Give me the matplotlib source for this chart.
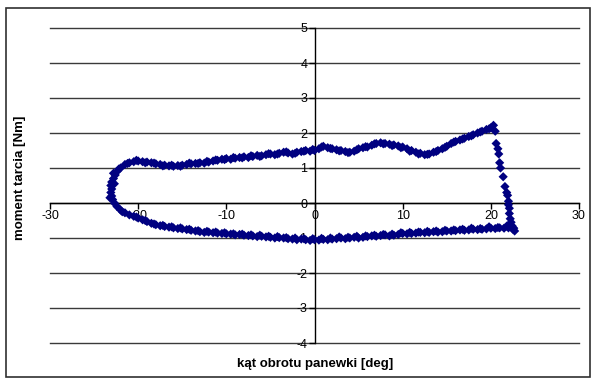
import matplotlib.pyplot as plt
from matplotlib.patches import Rectangle

plt.rcParams['font.family'] = ['Liberation Sans', 'DejaVu Sans']

# upper branch (left -> right)
upper_x = [-22.0, -21.5, -21.0, -20.5, -20.0, -19.5, -19.0, -18.5, -18.0, -17.5,
           -17.0, -16.5, -16.0, -15.5, -15.0, -14.5, -14.0, -13.5, -13.0, -12.5,
           -12.0, -11.5, -11.0, -10.5, -10.0, -9.5, -9.0, -8.5, -8.0, -7.5,
           -7.0, -6.5, -6.0, -5.5, -5.0, -4.5, -4.0, -3.5, -3.0, -2.5,
           -2.0, -1.5, -1.0, -0.5, 0.0, 0.5, 1.0, 1.5, 2.0, 2.5,
           3.0, 3.5, 4.0, 4.5, 5.0, 5.5, 6.0, 6.5, 7.0, 7.5,
           8.0, 8.5, 9.0, 9.5, 10.0, 10.5, 11.0, 11.5, 12.0, 12.5,
           13.0, 13.5, 14.0, 14.5, 15.0, 15.5, 16.0, 16.5, 17.0, 17.5,
           18.0, 18.5, 19.0, 19.5, 20.0, 20.3, 20.5]
upper_y = [1.00, 1.10, 1.15, 1.18, 1.20, 1.18, 1.17, 1.15, 1.12, 1.10,
           1.08, 1.06, 1.05, 1.07, 1.08, 1.10, 1.12, 1.13, 1.15, 1.14,
           1.17, 1.20, 1.22, 1.25, 1.27, 1.25, 1.28, 1.30, 1.32, 1.30,
           1.33, 1.36, 1.35, 1.38, 1.40, 1.38, 1.42, 1.45, 1.43, 1.40,
           1.45, 1.47, 1.50, 1.48, 1.50, 1.55, 1.62, 1.58, 1.55, 1.52,
           1.50, 1.47, 1.45, 1.48, 1.55, 1.58, 1.60, 1.65, 1.70, 1.72,
           1.70, 1.68, 1.66, 1.63, 1.60, 1.55, 1.50, 1.45, 1.42, 1.38,
           1.40, 1.45, 1.50, 1.55, 1.62, 1.70, 1.76, 1.80, 1.85, 1.90,
           1.95, 2.00, 2.05, 2.10, 2.15, 2.22, 2.05]

# a second, slightly offset pass over the upper branch (the loop is traced twice)
upper2_x = [-21.2, -20.2, -19.2, -18.2, -17.2, -16.2, -15.2, -14.2, -13.2, -12.2,
            -11.2, -10.2, -9.2, -8.2, -7.2, -6.2, -5.2, -4.2, -3.2, -2.2,
            -1.2, -0.2, 0.8, 1.8, 2.8, 3.8, 4.8, 5.8, 6.8, 7.8,
            8.8, 9.8, 10.8, 11.8, 12.8, 13.8, 14.8, 15.8, 16.8, 17.8,
            18.8, 19.8]
upper2_y = [1.13, 1.22, 1.15, 1.14, 1.06, 1.08, 1.05, 1.14, 1.13, 1.19,
            1.23, 1.24, 1.30, 1.29, 1.35, 1.33, 1.41, 1.40, 1.46, 1.42,
            1.48, 1.53, 1.60, 1.56, 1.49, 1.44, 1.52, 1.61, 1.69, 1.69,
            1.64, 1.58, 1.48, 1.40, 1.39, 1.47, 1.59, 1.74, 1.83, 1.92,
            2.03, 2.12]

# right-hand drop
drop_x = [20.6, 20.8, 20.9, 21.0, 21.1, 21.4, 21.6, 21.8, 21.9, 22.0,
          22.0, 22.1, 22.1, 22.2, 22.3, 22.4, 22.6, 22.7, 22.5]
drop_y = [1.70, 1.55, 1.40, 1.15, 1.00, 0.75, 0.47, 0.30, 0.22, 0.05,
          -0.05, -0.15, -0.30, -0.45, -0.55, -0.65, -0.72, -0.80, -0.75]

# lower branch (right -> left)
lower_x = [22.5, 22.0, 21.5, 21.0, 20.5, 20.0, 19.5, 19.0, 18.5, 18.0,
           17.5, 17.0, 16.5, 16.0, 15.5, 15.0, 14.5, 14.0, 13.5, 13.0,
           12.5, 12.0, 11.5, 11.0, 10.5, 10.0, 9.5, 9.0, 8.5, 8.0,
           7.5, 7.0, 6.5, 6.0, 5.5, 5.0, 4.5, 4.0, 3.5, 3.0,
           2.5, 2.0, 1.5, 1.0, 0.5, 0.0, -0.5, -1.0, -1.5, -2.0,
           -2.5, -3.0, -3.5, -4.0, -4.5, -5.0, -5.5, -6.0, -6.5, -7.0,
           -7.5, -8.0, -8.5, -9.0, -9.5, -10.0, -10.5, -11.0, -11.5, -12.0,
           -12.5, -13.0, -13.5, -14.0, -14.5, -15.0, -15.5, -16.0, -16.5, -17.0,
           -17.5, -18.0, -18.5, -19.0, -19.5, -20.0, -20.5, -21.0]
lower_y = [-0.70, -0.71, -0.72, -0.71, -0.73, -0.72, -0.74, -0.75, -0.76, -0.75,
           -0.77, -0.78, -0.77, -0.79, -0.80, -0.80, -0.82, -0.83, -0.82, -0.84,
           -0.85, -0.84, -0.86, -0.87, -0.88, -0.87, -0.90, -0.92, -0.94, -0.91,
           -0.93, -0.95, -0.94, -0.96, -0.98, -1.00, -0.98, -1.00, -1.02, -1.00,
           -1.02, -1.03, -1.05, -1.04, -1.06, -1.05, -1.07, -1.05, -1.03, -1.05,
           -1.03, -1.02, -1.00, -0.99, -1.00, -0.98, -0.97, -0.95, -0.96, -0.94,
           -0.93, -0.92, -0.90, -0.91, -0.89, -0.88, -0.87, -0.86, -0.85, -0.83,
           -0.84, -0.82, -0.80, -0.78, -0.76, -0.74, -0.73, -0.71, -0.69, -0.67,
           -0.65, -0.62, -0.58, -0.53, -0.48, -0.43, -0.38, -0.34]

# second pass over the lower branch
lower2_x = [21.8, 20.8, 19.8, 18.8, 17.8, 16.8, 15.8, 14.8, 13.8, 12.8,
            11.8, 10.8, 9.8, 8.8, 7.8, 6.8, 5.8, 4.8, 3.8, 2.8,
            1.8, 0.8, -0.2, -1.2, -2.2, -3.2, -4.2, -5.2, -6.2, -7.2,
            -8.2, -9.2, -10.2, -11.2, -12.2, -13.2, -14.2, -15.2, -16.2, -17.2,
            -18.2, -19.2, -20.2]
lower2_y = [-0.66, -0.70, -0.68, -0.73, -0.72, -0.75, -0.77, -0.78, -0.80, -0.81,
            -0.83, -0.84, -0.85, -0.89, -0.90, -0.92, -0.94, -0.95, -0.98, -0.97,
            -1.00, -1.01, -1.02, -1.02, -1.00, -0.99, -0.96, -0.95, -0.92, -0.91,
            -0.89, -0.88, -0.85, -0.83, -0.81, -0.79, -0.75, -0.71, -0.68, -0.64,
            -0.60, -0.50, -0.40]

# left-hand turn (bottom -> top)
turn_x = [-21.5, -22.0, -22.4, -22.7, -22.9, -23.0, -23.1, -23.0, -23.1, -23.0,
          -22.8, -22.6, -22.4, -22.2, -22.7, -23.2, -22.8, -21.8]
turn_y = [-0.28, -0.20, -0.10, 0.00, 0.10, 0.20, 0.30, 0.40, 0.50, 0.60,
          0.70, 0.80, 0.90, 0.97, 0.55, 0.15, 0.85, -0.25]

x_ticks = [-30, -20, -10, 0, 10, 20, 30]
y_ticks = [-4, -3, -2, -1, 0, 1, 2, 3, 4, 5]

xs = upper_x + upper2_x + drop_x + lower_x + lower2_x + turn_x
ys = upper_y + upper2_y + drop_y + lower_y + lower2_y + turn_y

fig = plt.figure(figsize=(5.94, 3.80), dpi=100)
ax = fig.add_axes([50 / 594, 1 - 343 / 380, 529 / 594, 315 / 380])
ax.set_xlim(-30, 30)
ax.set_ylim(-4, 5)

# horizontal gridlines
for yv in y_ticks:
    ax.plot([-30, 30], [yv, yv], color='#3a3a3a', lw=1.0, zorder=1, clip_on=False)

ax.scatter(xs, ys, marker='D', s=22, color='#000080', edgecolors='none', zorder=3)

for side in ['top', 'right']:
    ax.spines[side].set_visible(False)
ax.spines['left'].set_position(('data', 0))
ax.spines['bottom'].set_position(('data', 0))
ax.spines['left'].set_linewidth(1.0)
ax.spines['bottom'].set_linewidth(1.0)
ax.spines['left'].set_zorder(2)
ax.spines['bottom'].set_zorder(2)

ax.set_xticks(x_ticks)
ax.set_yticks(y_ticks)
ax.set_xticklabels([str(v) for v in x_ticks])
ax.set_yticklabels([str(v) for v in y_ticks])
ax.tick_params(axis='both', direction='out', length=4, width=1.0,
               labelsize=9, colors='black', pad=1)

fig.text(20 / 594, 1 - 178 / 380, 'moment tarcia [Nm]', rotation=90,
         ha='center', va='center', fontsize=9.5, fontweight='bold')
fig.text(315 / 594, 1 - 364 / 380, 'kąt obrotu panewki [deg]',
         ha='center', va='center', fontsize=9.5, fontweight='bold')

# outer frame of the chart object
fig.patches.append(Rectangle((6 / 594, 1 - 377 / 380), 584 / 594, 369 / 380,
                             transform=fig.transFigure, fill=False,
                             edgecolor='#303030', lw=1.2))

fig.savefig('out.png', dpi=100)
